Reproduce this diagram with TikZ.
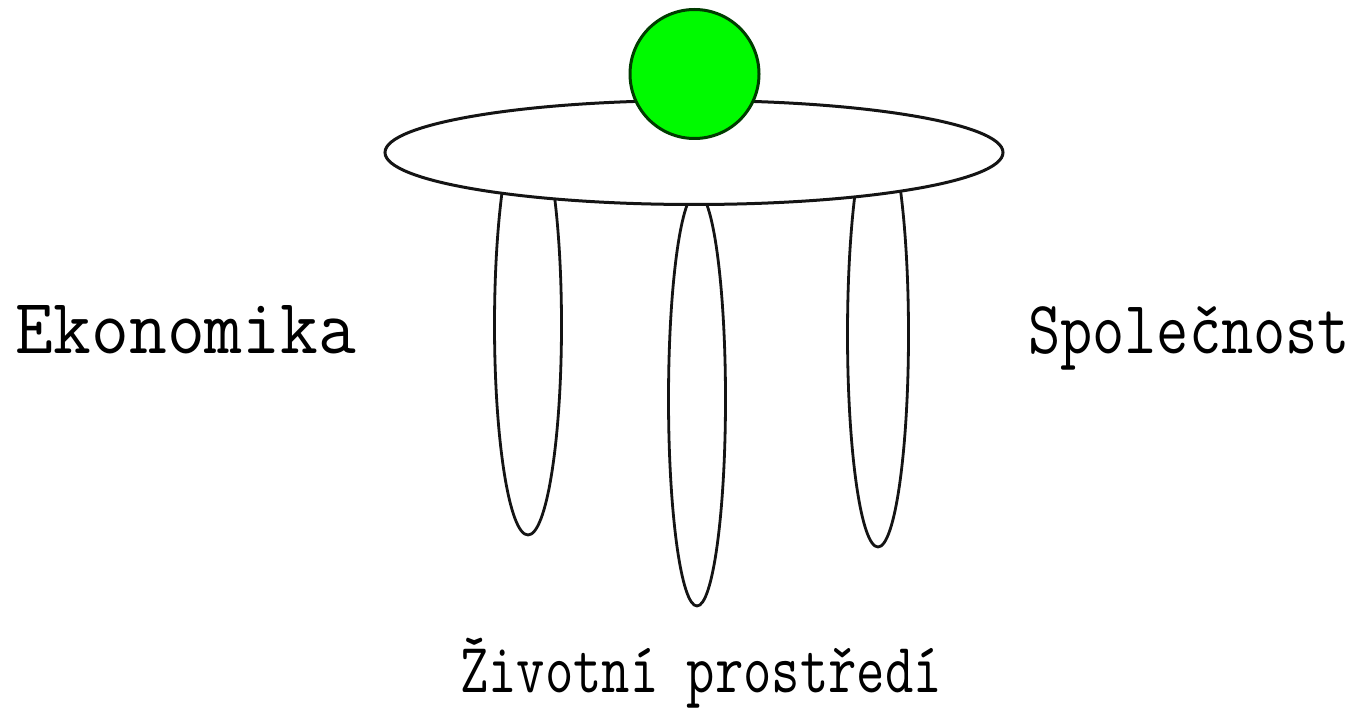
\documentclass[tikz,border=0pt]{standalone}
\usepackage{fontspec}
\usepackage{graphicx}
\definecolor{ballgreen}{RGB}{0,250,0}
\definecolor{balledge}{RGB}{0,60,0}
\definecolor{inkline}{RGB}{20,20,20}
\tikzset{
  leg/.style={draw=inkline, line width=2.8pt},
  top/.style={draw=inkline, fill=white, line width=3pt},
  ball/.style={draw=balledge, fill=ballgreen, line width=3pt},
  lbl/.style={inner sep=0pt, outer sep=0pt, anchor=base west, font=\ttfamily\fontsize{60}{60}\selectfont}
}
\begin{document}
\begin{tikzpicture}[x=1pt,y=-1pt]
\useasboundingbox (0,0) rectangle (1354,714);
% legs
\draw[leg] (528,325) ellipse [x radius=33.5, y radius=210];
\draw[leg] (697,399) ellipse [x radius=28.5, y radius=207];
\draw[leg] (878,334) ellipse [x radius=30.5, y radius=213];
% table top
\draw[top] (694,152.5) ellipse [x radius=309, y radius=52];
% ball
\draw[ball] (694.5,74) circle [radius=64.5];
% labels
\node[lbl] (eko) at (16,353) {\resizebox{340pt}{48pt}{Ekonomika}};
\node[lbl] (spo) at (1028,353) {\resizebox{322pt}{48pt}{Společnost}};
\node[lbl] (ziv) at (460,692) {\resizebox{482pt}{55pt}{Životní prostředí}};
\end{tikzpicture}
\end{document}
